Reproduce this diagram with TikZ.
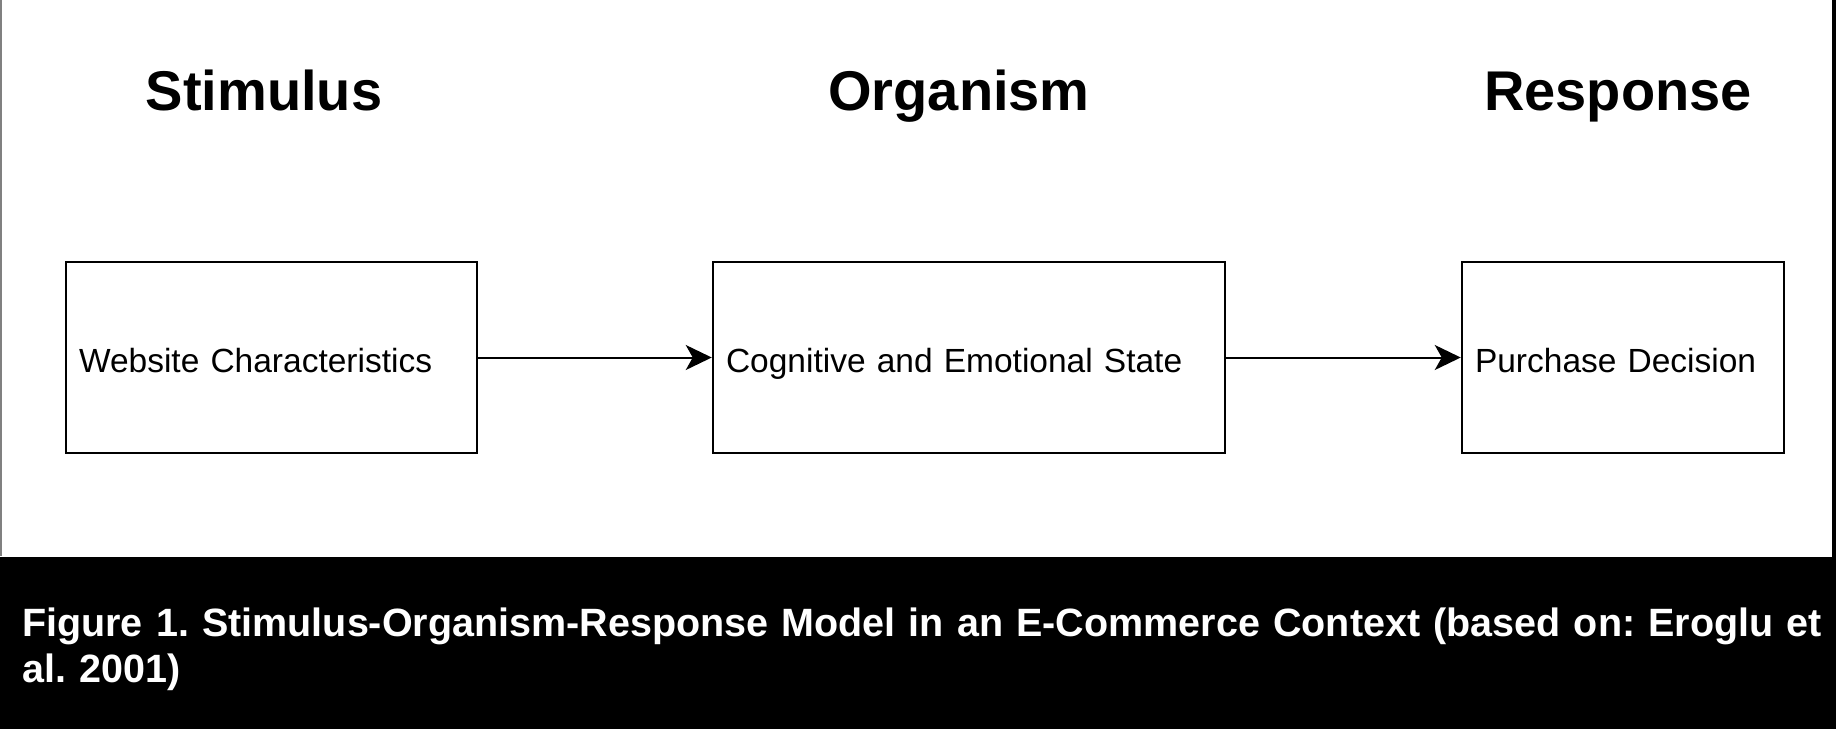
\documentclass[tikz,border=0pt]{standalone}
\usepackage{fontspec}
\setmainfont{Liberation Sans}
\usetikzlibrary{arrows.meta,positioning}
\frenchspacing

\tikzset{
  heading/.style={font=\fontsize{56}{64}\selectfont\bfseries, anchor=base, inner sep=0pt},
  stagebox/.style={draw, line width=2.5pt, minimum height=191pt, inner xsep=13pt,
    text height=30pt, text depth=1pt, align=left, font=\fontsize{33.5}{40}\selectfont},
  flow/.style={line width=2pt, -{Stealth[length=26pt, width=25pt, inset=7pt]}}
}

\begin{document}
\begin{tikzpicture}[x=1pt, y=-1pt]
    \useasboundingbox (0,0) rectangle (1836,729);
    \def\boxy{357.5}

    % frame and caption band
    \fill[white] (0,0) rectangle (1836,556);
    \draw[gray, line width=1.5pt] (1,0) -- (1,556);
    \fill[black] (0,557) rectangle (1836,729);
    \fill[black] (1832,0) rectangle (1836,729);

    % headings
    \node[heading] (stim) at (264,110) {Stimulus};
    \node[heading] (orgn) at (959,110) {Organism};
    \node[heading] (resp) at (1618,110) {Response};

    % stages
    \node[stagebox, text width=385pt] (web) at (271.5,\boxy) {Website Characteristics};
    \node[stagebox, text width=486pt] (state) at (969,\boxy) {Cognitive and Emotional State};
    \node[stagebox, text width=296pt] (buy) at (1623,\boxy) {Purchase Decision};

    \draw[flow] (web.east) -- (state.west);
    \draw[flow] (state.east) -- (buy.west);

    % caption
    \node[anchor=base west, inner sep=0pt, text=white, align=left, text width=1810pt,
      font=\fontsize{39.5}{46}\selectfont\bfseries] (cap) at (22,636)
      {Figure 1. Stimulus-Organism-Response Model in an E-Commerce Context (based on: Eroglu et\\al. 2001)};
\end{tikzpicture}
\end{document}
